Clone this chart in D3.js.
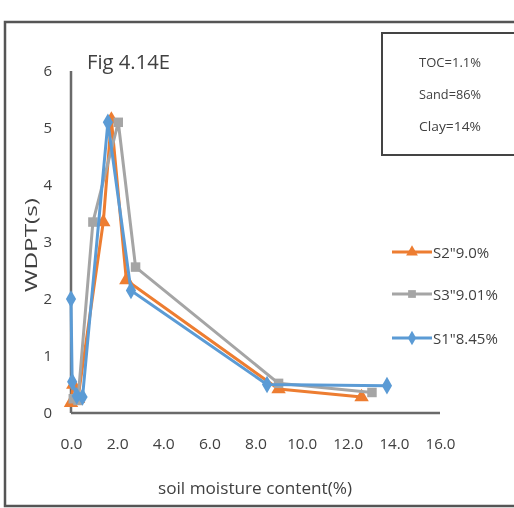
<!DOCTYPE html>
<html>
<head>
<meta charset="utf-8">
<script src="https://cdn.jsdelivr.net/npm/d3@7"></script>
<style>
  body { margin: 0; background: #fff; }
  svg { display: block; filter: blur(0.5px); }
  text { font-family: "Open Sans", sans-serif; fill: #404040; }
</style>
</head>
<body>
<div id="chart"></div>
<script>
// data
const seriesNames = ['S2"9.0%', 'S3"9.01%', 'S1"8.45%'];
const s2x = [0.0, 0.1, 0.3, 1.4, 1.75, 2.4, 9.0, 12.6];
const s2y = [0.18, 0.5, 0.25, 3.35, 5.15, 2.33, 0.42, 0.28];
const s3x = [0.1, 0.3, 0.95, 2.05, 2.8, 9.0, 13.05];
const s3y = [0.25, 0.22, 3.35, 5.1, 2.56, 0.52, 0.36];
const s1x = [0.0, 0.05, 0.25, 0.5, 1.6, 2.6, 8.5, 13.7];
const s1y = [2.0, 0.55, 0.3, 0.28, 5.1, 2.15, 0.5, 0.48];
const xTicks = [0, 2, 4, 6, 8, 10, 12, 14, 16];
const yTicks = [0, 1, 2, 3, 4, 5, 6];
const infoLines = ['TOC=1.1%', 'Sand=86%', 'Clay=14%'];

const colors = ['#ED7D31', '#A5A5A5', '#5B9BD5'];
const symbols = [d3.symbolTriangle, d3.symbolSquare, d3.symbolDiamond];

const W = 514, H = 508;
const svg = d3.select('#chart').append('svg').attr('width', W).attr('height', H);

// outer frame
svg.append('path')
  .attr('d', `M${W + 2},22 H5 V506 H${W + 2}`)
  .attr('fill', 'none').attr('stroke', '#555').attr('stroke-width', 2.5);

// scales
const x = d3.scaleLinear().domain([0, 16]).range([71, 440]);
const y = d3.scaleLinear().domain([0, 6]).range([413, 71]);

// axes
const xAxis = svg.append('g').attr('transform', `translate(0,${y(0)})`)
  .call(d3.axisBottom(x).tickValues(xTicks).tickFormat(d3.format('.1f')).tickSize(0).tickPadding(25));
const yAxis = svg.append('g').attr('transform', `translate(${x(0)},0)`)
  .call(d3.axisLeft(y).tickValues(yTicks).tickFormat(d3.format('d')).tickSize(0).tickPadding(19));
[xAxis, yAxis].forEach(a => {
  a.select('.domain').attr('stroke', '#6a6a6a').attr('stroke-width', 2.5);
  a.selectAll('text').style('font-size', '15px').attr('fill', '#404040');
});
xAxis.select('.domain').attr('d', `M${x(0)},0H${x(16)}`);
yAxis.select('.domain').attr('d', `M0,${y(0)}V${y(6)}`);
xAxis.selectAll('text').attr('textLength', (d) => d >= 10 ? 30 : 22).attr('lengthAdjust', 'spacingAndGlyphs');

// titles
svg.append('text').attr('x', 255).attr('y', 494).attr('text-anchor', 'middle')
  .style('font-size', '16px').attr('textLength', 194).attr('lengthAdjust', 'spacingAndGlyphs')
  .text('soil moisture content(%)');
svg.append('text').attr('transform', 'translate(37,245) rotate(-90)').attr('text-anchor', 'middle')
  .style('font-size', '17px').attr('textLength', 94).attr('lengthAdjust', 'spacingAndGlyphs')
  .text('WDPT(s)');
svg.append('text').attr('x', 87).attr('y', 69).style('font-size', '20px').attr('fill', '#222')
  .attr('textLength', 83).attr('lengthAdjust', 'spacingAndGlyphs')
  .text('Fig 4.14E');

// info box
svg.append('path').attr('d', `M${W + 2},33 H382 V155 H${W + 2}`)
  .attr('fill', '#fff').attr('stroke', '#444').attr('stroke-width', 2);
svg.selectAll('.info').data(infoLines).join('text').attr('class', 'info')
  .attr('x', 450).attr('y', (d, i) => 67 + i * 32).attr('text-anchor', 'middle')
  .style('font-size', '13px').attr('fill', '#333')
  .attr('textLength', 62).attr('lengthAdjust', 'spacingAndGlyphs')
  .text(d => d);

// series
const series = [
  { xs: s2x, ys: s2y }, { xs: s3x, ys: s3y }, { xs: s1x, ys: s1y }
].map((s, i) => ({ name: seriesNames[i], color: colors[i], symbol: symbols[i],
  pts: s.xs.map((v, j) => [v, s.ys[j]]) }));

const line = d3.line().x(d => x(d[0])).y(d => y(d[1]));
const g = svg.append('g');
series.forEach(s => {
  g.append('path').attr('d', line(s.pts)).attr('fill', 'none')
    .attr('stroke', s.color).attr('stroke-width', 3).attr('stroke-linejoin', 'round');
  g.selectAll(null).data(s.pts).join('path')
    .attr('transform', d => `translate(${x(d[0])},${y(d[1])})`)
    .attr('d', d3.symbol(s.symbol, 90)).attr('fill', s.color);
});

// legend
const legY = [252, 294, 338];
series.forEach((s, i) => {
  const lg = svg.append('g').attr('transform', `translate(392,${legY[i]})`);
  lg.append('line').attr('x1', 0).attr('x2', 40).attr('stroke', s.color).attr('stroke-width', 3);
  lg.append('path').attr('transform', 'translate(20,0)').attr('d', d3.symbol(s.symbol, 60)).attr('fill', s.color);
  lg.append('text').attr('x', 41).attr('y', 6).style('font-size', '15px').attr('fill', '#404040')
    .text(s.name);
});
</script>
</body>
</html>
